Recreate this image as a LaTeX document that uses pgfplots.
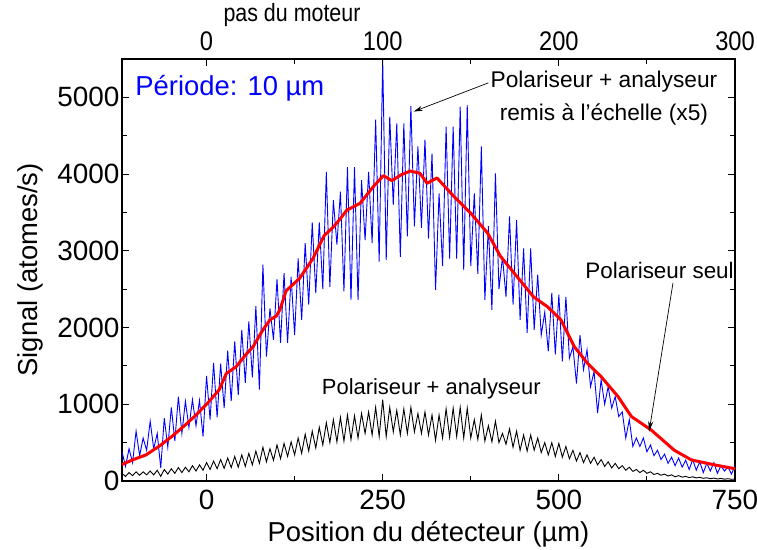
\documentclass[border=0pt]{standalone}
\usepackage{fontspec}
\setmainfont{Liberation Sans}
\usepackage{pgfplots}
\usepackage{pgfplotstable}
\pgfplotsset{compat=1.18}
\usetikzlibrary{arrows.meta}

\pgfplotstableread{
x b u
-120 100 380
-115 60 190
-110 110 420
-105 70 240
-100 120 650
-95 75 330
-90 120 560
-85 80 400
-80 130 780
-75 80 420
-70 140 620
-65 60 170
-60 150 820
-55 90 440
-50 160 960
-45 100 520
-40 175 1100
-35 110 620
-30 180 1040
-25 120 700
-20 200 1060
-15 130 720
-10 210 1050
-5 140 580
0 240 1370
5 150 800
10 260 1540
15 160 830
20 280 1530
25 165 950
30 300 1700
35 175 1040
40 320 1820
45 180 1120
50 340 1970
55 190 1280
60 360 2080
65 210 1350
70 390 2280
75 230 1190
80 440 2820
85 250 1620
90 420 2250
95 270 1840
100 470 2630
105 290 1800
110 490 2710
115 320 1800
120 510 2660
125 340 1900
130 560 2900
135 360 2100
140 610 3100
145 390 2300
150 650 3370
155 430 2450
160 700 3370
165 470 2500
170 760 4030
175 500 2530
180 800 3660
185 510 3080
190 830 3770
195 520 2470
200 860 4090
205 540 2360
210 850 4090
215 560 2360
220 880 3920
225 620 3140
230 900 4030
235 600 3100
240 960 4710
245 580 2860
250 1060 5490
255 580 2880
260 960 4750
265 640 3600
270 920 4660
275 600 2920
280 940 4660
285 620 3190
290 960 4890
295 640 3320
300 880 4360
305 620 3300
310 900 4450
315 600 3160
320 860 4270
325 530 2490
330 860 3750
335 560 2800
340 940 4620
345 570 2900
350 950 4620
355 580 2900
360 960 4880
365 560 2750
370 950 4900
375 560 2800
380 800 3750
385 540 2700
390 860 4360
395 520 2360
400 720 3320
405 510 2230
410 780 4010
415 500 2500
420 620 2920
425 480 2400
430 680 3450
435 440 2300
440 650 3400
445 400 2100
450 600 3030
455 390 1930
460 600 3030
465 400 1970
470 560 2690
475 370 1900
480 500 2200
485 340 1690
490 500 2450
495 320 1650
500 490 2430
505 310 1560
510 450 2400
515 290 1600
520 400 1750
525 260 1270
530 370 1900
535 240 1450
540 340 1710
545 230 1230
550 310 1425
555 210 885
560 280 1320
565 190 1000
570 250 1230
575 170 950
580 230 1100
585 160 840
590 200 900
595 140 560
600 180 800
605 125 450
610 150 560
615 110 450
620 140 560
625 100 380
630 120 470
635 85 330
640 100 400
645 75 280
650 90 350
655 65 230
660 80 310
665 55 200
670 70 300
675 50 180
680 60 270
685 45 150
690 55 280
695 40 140
700 48 250
705 35 110
710 42 230
715 30 130
720 38 240
725 26 100
730 34 200
735 24 130
740 30 180
745 22 90
750 26 200
}\datatab

\pgfplotstableread{
x r
-120 215
-105 275
-86 340
-67 455
-48 590
-29 740
-15 860
2 1020
18 1190
28 1400
42 1490
56 1650
66 1750
80 1970
90 2100
99 2150
104 2230
113 2480
132 2640
151 2900
167 3200
180 3310
190 3420
199 3530
218 3620
237 3840
251 3980
263 3915
276 3990
289 4040
303 4010
313 3880
327 3950
339 3830
351 3710
375 3490
399 3230
417 2930
441 2660
464 2400
484 2270
503 2100
522 1750
541 1530
560 1360
584 1100
603 840
631 665
664 400
688 275
721 210
750 160
}\redtab

\begin{document}
\begin{tikzpicture}
\begin{axis}[
  name=ax,
  scale only axis, width=613bp, height=422bp,
  xmin=-120, xmax=750, ymin=0, ymax=5500,
  xtick={0,250,500,750}, minor x tick num=1,
  ytick={0,1000,2000,3000,4000,5000}, minor y tick num=1,
  tick align=inside, xtick pos=left, ytick pos=both,
  axis line style={line width=1.3pt},
  major tick length=7bp, minor tick length=5bp,
  every tick/.style={line width=1pt, black},
  ticklabel style={font=\fontsize{28}{32}\selectfont},
  xticklabel style={yshift=-6bp},
  yticklabel style={xshift=1bp},
  /pgf/number format/assume math mode=true,
  /pgf/number format/1000 sep={},
  scaled ticks=false,
  xlabel={Position du détecteur (µm)},
  ylabel={Signal (atomes/s)},
  label style={font=\fontsize{27.5}{31}\selectfont},
  xlabel style={yshift=-4bp},
  ylabel style={yshift=7bp},
]
\addplot[black, line width=0.9pt] table[x=x, y=b] {\datatab};
\addplot[blue, line width=0.9pt] table[x=x, y=u] {\datatab};
\addplot[red, line width=3pt, line join=round] table[x=x, y=r] {\redtab};

\node[anchor=west, text=blue, font=\fontsize{27.5}{31}\selectfont] at (axis cs:-106,5124) {Période: 10 µm};
\node[align=center, font=\fontsize{22.8}{33}\selectfont] at (axis cs:564,4987) {Polariseur + analyseur\\remis à l'échelle (x5)};
\node[font=\fontsize{22.5}{26}\selectfont] at (axis cs:643,2740) {Polariseur seul};
\node[font=\fontsize{22}{26}\selectfont] at (axis cs:319,1200) {Polariseur + analyseur};
\draw[-{Stealth[length=9bp,width=5bp]}, line width=0.7pt] (axis cs:400,5189) -- (axis cs:294,4815);
\draw[-{Stealth[length=11bp,width=5bp]}, line width=0.7pt] (axis cs:662,2581) -- (axis cs:628,639);
\end{axis}
\begin{axis}[
  scale only axis, width=613bp, height=422bp,
  xmin=-48, xmax=300, ymin=0, ymax=5500,
  axis x line*=top, axis y line=none,
  xtick={0,100,200,300}, minor x tick num=1,
  tick align=inside,
  axis line style={line width=1.3pt},
  major tick length=7bp, minor tick length=5bp,
  every tick/.style={line width=1pt, black},
  /pgf/number format/assume math mode=true,
  xticklabel style={font=\fontsize{27}{31}\selectfont, yshift=5bp},
  xticklabel={\scalebox{0.88}[1]{\pgfmathprintnumber{\tick}}},
]
\addplot[draw=none] coordinates {(0,0)};
\end{axis}
\node[font=\fontsize{25}{29}\selectfont] at (170bp,466bp) {\scalebox{0.86}[1]{pas du moteur}};
\pgfresetboundingbox
\path[use as bounding box] (-122bp,-69bp) rectangle (635bp,481bp);
\end{tikzpicture}
\end{document}
